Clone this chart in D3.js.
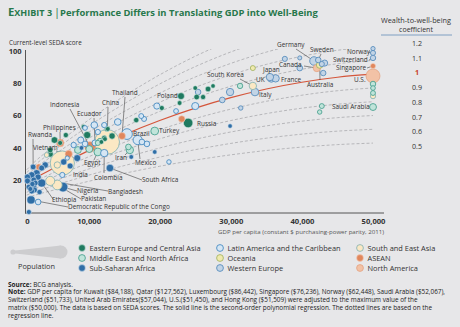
<!DOCTYPE html>
<html><head><meta charset="utf-8">
<script src="https://cdn.jsdelivr.net/npm/d3@7"></script>
<style>
html,body{margin:0;padding:0;background:#e7e7e9;}
svg{display:block;font-family:"Open Sans",Lato,sans-serif;}
</style></head>
<body>
<svg id="c" width="460" height="327"></svg>
<script>
// ---------- DATA ----------
const regionNames = ["Eastern Europe and Central Asia","Middle East and North Africa","Sub-Saharan Africa",
  "Latin America and the Caribbean","Oceania","Western Europe","South and East Asia","ASEAN","North America"];
const regionCodes = ["EE","ME","SSA","LA","OC","WE","SEA","AS","NA"];

const countries = ["Norway","Luxembourg","Switzerland","Singapore","U.S.","UAE","Qatar","Kuwait","Hong Kong","Saudi Arabia",
 "Oman","Bahrain","Germany","Sweden","Denmark","Netherlands","Canada","Australia","Austria","Iceland","Finland","Belgium",
 "UK","France","Japan","South Korea","New Zealand","Italy","Spain","Israel","Cyprus","Equatorial Guinea",
 "Poland","Croatia","Slovenia","Portugal","Hungary","Slovakia","Czech Republic","Estonia","Chile","Uruguay","Argentina","Greece","Lithuania",
 "Malaysia","Russia","Bulgaria","Panama","Costa Rica","Venezuela",
 "Turkey","Brazil","Thailand","China","Mexico","Dominican Rep.","Cuba","Gabon","Trinidad","Iran","Botswana",
 "Peru","Jamaica","Paraguay","El Salvador","Belarus","Romania","Sri Lanka","Guatemala","Bolivia","Namibia","Honduras",
 "Georgia","Armenia","Ukraine","Jordan","Lebanon","Algeria","Tunisia","Morocco","Albania","Macedonia","Serbia","Kazakhstan","Azerbaijan",
 "Uzbekistan","Moldova","Kyrgyzstan","Mongolia","Nicaragua","Guyana",
 "Indonesia","Ecuador","Philippines","Vietnam","Egypt","Colombia","India","Cambodia","Rwanda","South Africa","Nigeria","Pakistan",
 "Bangladesh","Ethiopia","Democratic Republic of the Congo","Haiti","Central African Rep.",
 "Uganda","Tanzania","Kenya","Malawi","Mozambique","Burkina Faso","Mali","Niger","Chad","Madagascar","Zambia","Ghana","Senegal",
 "Cameroon","Benin","Liberia","Sierra Leone","Guinea","Togo","Burundi","Zimbabwe","Sudan","Angola"];
const region = ["WE","WE","WE","AS","NA","ME","ME","ME","SEA","ME",
 "ME","ME","WE","WE","WE","WE","NA","OC","WE","WE","WE","WE",
 "WE","WE","WE","SEA","OC","WE","WE","ME","WE","SSA",
 "EE","EE","EE","WE","EE","EE","EE","EE","LA","LA","LA","WE","EE",
 "AS","EE","EE","LA","LA","LA",
 "ME","LA","AS","SEA","LA","LA","LA","SSA","LA","ME","SSA",
 "LA","LA","LA","LA","EE","EE","SEA","LA","LA","SSA","LA",
 "EE","EE","EE","ME","ME","ME","ME","ME","EE","EE","EE","EE","EE",
 "EE","EE","EE","SEA","LA","LA",
 "AS","LA","AS","AS","ME","LA","SEA","AS","SSA","SSA","SSA","SEA",
 "SEA","SSA","SSA","LA","SSA",
 "SSA","SSA","SSA","SSA","SSA","SSA","SSA","SSA","SSA","SSA","SSA","SSA","SSA",
 "SSA","SSA","SSA","SSA","SSA","SSA","SSA","SSA","SSA","SSA"];
const gdp = [50000,50000,50000,50000,50000,50000,50000,50000,50000,50000,
 42800,42500,41700,42300,42800,43200,42100,42500,43000,39700,37600,39700,
 35700,36300,35500,33100,33100,33400,29900,31300,31400,29900,
 23000,20300,25000,25400,25200,26100,26800,27500,19600,22300,25000,28800,22800,
 23100,24000,16700,17400,17800,14100,
 19300,15400,14700,12600,16900,17500,18200,19300,21300,15800,16000,
 10800,9500,12200,11300,12600,13300,5600,8900,9500,9000,7900,
 9300,12700,9800,11600,11300,10100,15600,8500,12300,11800,12200,4600,4600,
 5200,6000,6800,4100,6300,7000,
 10200,10900,6000,7200,11300,12200,6300,3000,2200,13000,6400,5600,
 4600,3400,1900,2900,1600,
 2000,2200,2700,1400,1900,2100,2300,2000,2400,1400,3400,3900,2300,
 2900,2500,1800,3100,2000,2100,1600,7400,8400,6500];
const score = [98.8,101.5,95.7,90.7,84.5,79.5,77.0,73.9,72.0,65.2,
 65.8,62.1,93.8,94.4,91.9,92.5,89.4,91.3,86.3,95.7,95.1,89.4,
 82.9,83.0,83.8,78.3,89.4,74.5,74.5,78.3,64.6,53.4,
 72.0,64.6,77.0,74.5,71.4,71.4,76.4,78.3,65.8,62.7,65.8,69.6,67.7,
 57.8,55.3,57.1,59.6,57.8,55.9,
 50.3,48.4,47.2,43.5,44.7,43.5,42.3,37.3,31.1,38.5,34.2,
 54.0,52.2,54.0,49.7,51.6,47.2,29.2,44.7,42.3,39.8,41.6,
 52.8,51.6,47.8,44.1,42.9,39.1,40.4,38.5,45.3,43.5,46.0,36.0,38.5,
 44.7,42.9,47.8,35.4,23.0,33.5,
 40.4,42.9,42.9,36.0,37.3,36.6,30.4,28.0,28.0,27.3,15.5,16.8,
 19.3,18.0,7.5,6.2,0,
 23.0,21.1,24.2,19.3,14.9,18.6,15.5,16.8,13.7,21.7,27.3,29.2,19.9,
 21.7,18.0,14.3,12.4,13.0,17.4,15.5,28.6,33.5,31.1];
// population (millions)
const pop = [5.2,0.6,8.2,5.5,320,9.2,2.5,3.9,7.3,31,
 4.2,1.4,70,9.8,5.7,17,36,24,8.6,0.3,5.5,11,
 40,40,40,40,4.6,45,40,8,1.2,1.2,
 30,4.2,2,10,9.8,5.4,10.5,1.3,18,3.4,35,11,2.9,
 22,100,7,4,4.8,25,
 50,150,30,1370,90,10.5,11,1.8,1.3,40,2.2,
 25,2.8,6.6,6.3,9.5,19.8,21,16,11,2.4,8,
 3.7,3,35,7.6,5.9,30,11,28,2.9,2.1,7,17.5,9.6,
 25,3.5,6,3,6.1,0.8,
 150,16,50,40,50,40,1300,15,11,45,110,110,
 90,60,60,11,4.6,
 25,30,30,14,20,15,14,15,12,18,14,20,12,
 18,10.6,4.5,6.5,12,7,10,14,30,20];

// regression line and wealth-to-well-being coefficients
const regGdp   = [1300, 2500, 5000, 10000, 15000, 20000, 25000, 30000, 35000, 40000, 45000, 50000];
const regScore = [17.5, 21.0, 27.0, 38.1, 48.0, 56.8, 64.5, 71.0, 76.4, 80.6, 83.7, 85.6];
const dashCoefs = [1.5, 1.4, 1.3, 1.2, 1.1, 0.9, 0.8, 0.7, 0.6, 0.5];
const coefLabels = ["1.2","1.1","1","0.9","0.8","0.7","0.6","0.5"];
const xTicks = [0, 10000, 20000, 30000, 40000, 50000];
const yTicks = [20, 40, 60, 80, 100];

// ---------- STYLES / LAYOUT ----------
const style = {
  EE:{fill:"#1f7a60",stroke:"#d5ebe4",sw:0.6},
  ME:{fill:"#c0e4da",stroke:"#3e9b89",sw:0.8},
  SSA:{fill:"#2f6ea6",stroke:"#d4e3f0",sw:0.6},
  LA:{fill:"#d6e6f4",stroke:"#4a8cc2",sw:0.9},
  OC:{fill:"#f0eaae",stroke:"#9fb05c",sw:0.8},
  WE:{fill:"#c2d4e6",stroke:"#5a8ebd",sw:0.9},
  SEA:{fill:"#fbe8c4",stroke:"#7eb0b3",sw:0.8},
  AS:{fill:"#e0875d",stroke:"#f5cdb8",sw:0.6},
  NA:{fill:"#f2c2a6",stroke:"#e3a383",sw:0.8}
};
// [name, textX, textY, leaderStartX, leaderStartY]
const annotations = [
 ["Germany",277,47,296,49],["Sweden",310,52,321,54],["Norway",347,54,368,52],
 ["Switzerland",333,62,369,60],["Singapore",336,70,367,68],["U.S.",354,82,null,null],
 ["Canada",279,67,304,66],["Australia",307,87,320,80],["Saudi Arabia",332,109,null,null],
 ["Japan",263,72,null,null],["UK",256,82,null,null],["France",281,82,null,null],
 ["South Korea",207,77,240,79],["Italy",259,97,259,94],["Poland",157,98,null,null],
 ["Russia",197,126,null,null],["Thailand",112,95,125,97],["China",102,105,108,107],
 ["Brazil",133,136,null,null],["Turkey",159,133,null,null],["Indonesia",50,107,70,109],
 ["Ecuador",77,116,94,118],["Philippines",43,130,60,132],["Rwanda",28,137,33,139],
 ["Vietnam",33,150,56,151],["Egypt",84,165,94,160],["Iran",115,160,125,155],
 ["Mexico",135,165,140,159],["India",73,177,null,null],["Colombia",94,180,104,173],
 ["South Africa",142,182,142,180],["Nigeria",77,193,77,191],["Bangladesh",108,193.5,108,191],
 ["Pakistan",81,201,81,199],["Ethiopia",52,202,53,199],
 ["Democratic Republic of the Congo",68,209.3,68,207]
];

function fitSize(sel, refNode, target){
  const w = refNode.getComputedTextLength();
  const k = target / w;
  sel.each(function(){
    const el = d3.select(this);
    el.attr("font-size", parseFloat(el.attr("font-size")) * k);
  });
}

const svg = d3.select("#c");
svg.append("rect").attr("width",460).attr("height",327).attr("fill","#e7e7e9");

const x = d3.scaleLinear().domain([0,50000]).range([17.5,373]);
const y = d3.scaleLinear().domain([0,100]).range([212,51]);
const r = d3.scaleSqrt().domain([0,1400]).range([1.9,12.5]);

// Title (separate pieces, each measured)
const tg = svg.append("g").attr("fill","#27784c").attr("font-weight","bold");
const tE = tg.append("text").attr("x",8).attr("y",16).attr("font-size",10.5).text("E");
const eW = tE.node().getComputedTextLength();
const tX = tg.append("text").attr("x",8+eW).attr("y",16).attr("font-size",8.4).text("XHIBIT 3");
const exW = eW + tX.node().getComputedTextLength();
const k0 = 44 / exW;
tE.attr("font-size",10.5*k0);
const eW2 = tE.node().getComputedTextLength();
tX.attr("font-size",8.4*k0).attr("x",8+eW2);
tg.append("text").attr("x",54).attr("y",16).attr("font-size",11).attr("font-weight","normal").text("|");
const tM = tg.append("text").attr("x",60).attr("y",16).attr("font-size",10)
  .text("Performance Differs in Translating GDP into Well-Being");
fitSize(tM, tM.node(), 258);

// y title
const yt = svg.append("text").attr("x",9).attr("y",44.5).attr("font-size",7).attr("fill","#333").text("Current-level SEDA score");
fitSize(yt, yt.node(), 73);

// clip
svg.append("clipPath").attr("id","pc").append("rect").attr("x",26).attr("y",49).attr("width",352).attr("height",163);

const line = d3.line().x((d,i)=>x(regGdp[i])).y(d=>y(d)).curve(d3.curveMonotoneX);
const lines = svg.append("g").attr("clip-path","url(#pc)");
dashCoefs.forEach(c=>{
  lines.append("path").attr("d",line(regScore.map(v=>v*c))).attr("fill","none")
   .attr("stroke","#a9a9ad").attr("stroke-width",0.8).attr("stroke-dasharray","3,2");
});
lines.append("path").attr("d",line(regScore)).attr("fill","none").attr("stroke","#d4563b").attr("stroke-width",1.2);

// axes
const ya = svg.append("g").attr("transform","translate(25.5,0)")
  .call(d3.axisLeft(y).tickValues(yTicks).tickSize(0).tickPadding(4));
ya.select(".domain").remove();
ya.selectAll("text").attr("font-size",7.5).attr("font-weight","bold").attr("fill","#333").attr("font-family","'Open Sans',sans-serif");
svg.append("line").attr("x1",25.5).attr("x2",25.5).attr("y1",50).attr("y2",213.5).attr("stroke","#555").attr("stroke-width",1);

const xa = svg.append("g").attr("transform","translate(0,213)")
  .call(d3.axisBottom(x).tickValues(xTicks).tickSize(0).tickPadding(6).tickFormat(d3.format(",")));
xa.select(".domain").remove();
xa.selectAll("text").attr("font-size",7.5).attr("font-weight","bold").attr("fill","#333").attr("font-family","'Open Sans',sans-serif")
  .attr("dx",d=>d===0?9.5:0);
fitSize(xa.selectAll("text").merge(ya.selectAll("text")), xa.selectAll("text").nodes()[1], 24);
svg.append("line").attr("x1",25).attr("x2",384).attr("y1",213).attr("y2",213).attr("stroke","#555").attr("stroke-width",1);
const xt = svg.append("text").attr("x",384).attr("y",234).attr("text-anchor","end").attr("font-size",6.6).attr("fill","#555")
  .text("GDP per capita (constant $ purchasing-power parity, 2011)");
fitSize(xt, xt.node(), 166);

// leaders
const idx = {}; countries.forEach((c,i)=>idx[c]=i);
const lg = svg.append("g");
annotations.forEach(a=>{
  if(a[3]===null) return;
  const i = idx[a[0]];
  lg.append("line").attr("x1",a[3]).attr("y1",a[4]).attr("x2",x(gdp[i])).attr("y2",y(score[i]))
    .attr("stroke","#444").attr("stroke-width",0.6);
});

// points
const order = d3.range(countries.length).sort((a,b)=>pop[b]-pop[a]);
svg.append("g").selectAll("circle").data(order).join("circle")
  .attr("cx",i=>x(gdp[i])).attr("cy",i=>y(score[i])).attr("r",i=>r(pop[i]))
  .attr("fill",i=>style[region[i]].fill).attr("stroke",i=>style[region[i]].stroke)
  .attr("stroke-width",i=>style[region[i]].sw);

// labels
const labs = svg.append("g").selectAll("text").data(annotations).join("text")
  .attr("x",d=>d[1]).attr("y",d=>d[2]).attr("font-size",6.5).attr("fill","#333").text(d=>d[0]);
fitSize(labs, labs.nodes()[labs.size()-1], 102);

// coefficient panel
const wh1 = svg.append("text").attr("x",416).attr("y",23.3).attr("text-anchor","middle").attr("font-size",7).attr("fill","#333").text("Wealth-to-well-being");
const wh2 = svg.append("text").attr("x",416).attr("y",32).attr("text-anchor","middle").attr("font-size",7).attr("fill","#333").text("coefficient");
fitSize(wh1.merge(wh2), wh1.node(), 70);
svg.append("line").attr("x1",381).attr("x2",452).attr("y1",35).attr("y2",35).attr("stroke","#7f9fc2").attr("stroke-width",1);
const cl = svg.append("g").selectAll("text").data(coefLabels).join("text")
  .attr("x",417).attr("y",(d,i)=>46+i*14.7).attr("text-anchor","middle").attr("font-size",7.2)
  .attr("font-weight",d=>d==="1"?"bold":"normal").attr("fill",d=>d==="1"?"#c8402a":"#333").text(d=>d);
fitSize(cl, cl.nodes()[3], 10);

// legend: population
const pl = svg.append("g");
pl.append("path").attr("d","M13,250.8 L61,245.5 L61,258.5 L13,253.2 Z").attr("fill","#cdcdcf");
pl.append("circle").attr("cx",13).attr("cy",252).attr("r",2.6).attr("fill","#cdcdcf");
pl.append("circle").attr("cx",61).attr("cy",252).attr("r",6.5).attr("fill","#cdcdcf");
const pt = pl.append("text").attr("x",36.5).attr("y",269).attr("text-anchor","middle").attr("font-size",7.2).attr("fill","#333").text("Population");
fitSize(pt, pt.node(), 37);

// legend: regions
const colX = [82, 220, 360];
const legT = [];
regionCodes.forEach((c,i)=>{
  const cx = colX[Math.floor(i/3)], cy = 248 + (i%3)*10;
  svg.append("circle").attr("cx",cx).attr("cy",cy).attr("r",3.4).attr("fill",style[c].fill)
    .attr("stroke",style[c].stroke).attr("stroke-width",style[c].sw);
  legT.push(svg.append("text").attr("class","leg").attr("x",cx+7.5).attr("y",cy+2.7).attr("font-size",7.4).attr("fill","#333").text(regionNames[i]).node());
});
fitSize(svg.selectAll("text.leg"), legT[3], 113);

// source & note
const notes = [
 "GDP per capita for Kuwait ($84,188), Qatar ($127,562), Luxembourg ($86,442), Singapore ($76,236), Norway ($62,448), Saudi Arabia ($52,067),",
 "Switzerland ($51,733), United Arab Emirates($57,044), U.S.($51,450), and Hong Kong ($51,509) were adjusted to the maximum value of the",
 "matrix ($50,000). The data is based on SEDA scores. The solid line is the second-order polynomial regression. The dotted lines are based on the",
 "regression line."
];
const s = svg.append("text").attr("class","nt").attr("x",8).attr("y",286.5).attr("font-size",5.4).attr("fill","#222");
s.append("tspan").attr("font-weight","bold").text("Source: ");
s.append("tspan").text("BCG analysis.");
const noteNodes = [];
notes.forEach((n,i)=>{
  const tt = svg.append("text").attr("class","nt").attr("x",8).attr("y",294.3+i*7.8).attr("font-size",5.4).attr("fill","#222");
  if(i===0) tt.append("tspan").attr("font-weight","bold").text("Note: ");
  tt.append("tspan").text(n);
  noteNodes.push(tt.node());
});
fitSize(svg.selectAll("text.nt"), noteNodes[0], 437);
</script>
</body></html>
